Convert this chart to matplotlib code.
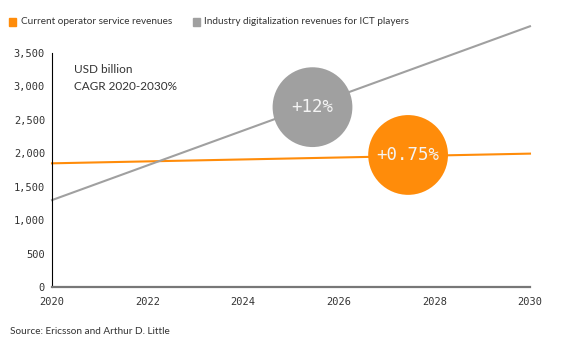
import matplotlib
matplotlib.use("Agg")
import matplotlib.pyplot as plt
from matplotlib.patches import Rectangle

# ---------------- DATA ----------------
years = [2020, 2030]
operator_rev = [1850, 1995]
industry_rev = [1300, 3900]
x_ticks = [2020, 2022, 2024, 2026, 2028, 2030]
y_ticks = [0, 500, 1000, 1500, 2000, 2500, 3000, 3500]
bubble_x = [2025.45, 2027.45]
bubble_y = [2690, 1975]
bubble_labels = ["+12%", "+0.75%"]

ORANGE = "#FF8C0A"
GRAY = "#A0A0A0"
SANS = "Lato"
MONO = "DejaVu Sans Mono"

# ---------------- PLOT ----------------
fig = plt.figure(figsize=(5.61, 3.46), dpi=100)
ax = fig.add_axes([0.0927, 0.1705, 0.852, 0.6763])

ax.plot(years, operator_rev, color=ORANGE, lw=1.5, clip_on=False, zorder=2)
ax.plot(years, industry_rev, color=GRAY, lw=1.5, clip_on=False, zorder=2)

bubble_colors = [GRAY, ORANGE]
ax.scatter(bubble_x, bubble_y, s=3300, c=bubble_colors, zorder=3, clip_on=False, linewidths=0)
for bx, by, lab in zip(bubble_x, bubble_y, bubble_labels):
    ax.text(bx, by, lab, color="#F4F4F4", ha="center", va="center",
            fontsize=12.5, family=MONO, zorder=4)

ax.set_xlim(2020, 2030)
ax.set_ylim(0, 3500)
ax.set_xticks(x_ticks)
ax.set_yticks(y_ticks)
ax.set_yticklabels([f"{v:,}" for v in y_ticks])
ax.tick_params(length=0, labelsize=7.5, colors="#333333", pad=5)
ax.tick_params(axis="x", pad=7)
for lbl in ax.get_xticklabels() + ax.get_yticklabels():
    lbl.set_family(MONO)

for s in ["top", "right"]:
    ax.spines[s].set_visible(False)
ax.spines["left"].set_color("black")
ax.spines["left"].set_linewidth(0.8)
ax.spines["bottom"].set_color("#777777")
ax.spines["bottom"].set_linewidth(1.6)

ax.text(0.047, 0.93, "USD billion", transform=ax.transAxes, fontsize=8.5,
        family=SANS, color="#333333", va="center")
ax.text(0.047, 0.855, "CAGR 2020-2030%", transform=ax.transAxes, fontsize=8.5,
        family=SANS, color="#333333", va="center")

# legend
fig.patches.append(Rectangle((9 / 561, 1 - 26 / 346), 7 / 561, 8 / 346,
                             transform=fig.transFigure, color=ORANGE))
fig.text(21 / 561, 1 - 22 / 346, "Current operator service revenues", fontsize=7.2,
         family=SANS, color="#333333", va="center")
fig.patches.append(Rectangle((193 / 561, 1 - 26 / 346), 7 / 561, 8 / 346,
                             transform=fig.transFigure, color=GRAY))
fig.text(204 / 561, 1 - 22 / 346, "Industry digitalization revenues for ICT players",
         fontsize=7.2, family=SANS, color="#333333", va="center")

fig.text(10 / 561, 1 - 331 / 346, "Source: Ericsson and Arthur D. Little", fontsize=7.2,
         family=SANS, color="#333333", va="center")

fig.savefig("out.png", dpi=100, facecolor="white")
